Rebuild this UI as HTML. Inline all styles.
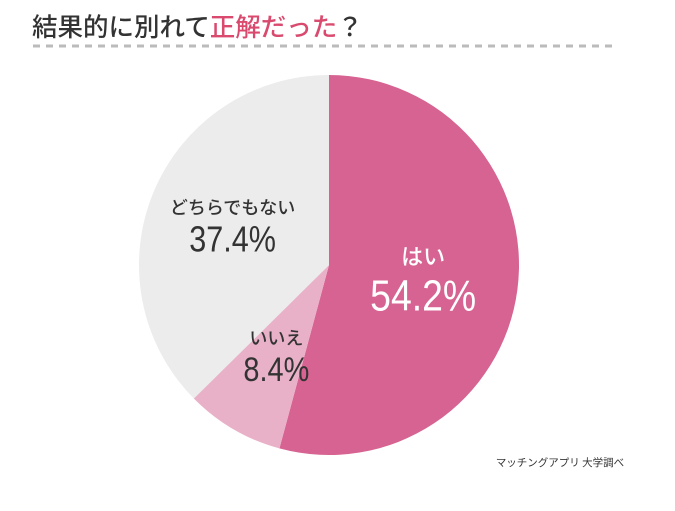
<!DOCTYPE html>
<html><head><meta charset="utf-8">
<style>
body{margin:0;background:#fff;width:675px;height:506px;overflow:hidden;font-family:"Liberation Sans","Noto Sans CJK JP",sans-serif;}
</style></head><body>
<svg width="675" height="506" viewBox="0 0 675 506">
<text x="32" y="36" font-size="25.5" fill="#333" font-family="Noto Sans CJK JP, sans-serif" font-weight="500">結果的に別れて<tspan fill="#d94a6e">正解だった</tspan>？</text>
<line x1="33" y1="46" x2="618" y2="46" stroke="#bbb" stroke-width="3" stroke-dasharray="7,6"/>
<g id="slices"></g>
<g id="labels" font-family="Noto Sans CJK JP, sans-serif" text-anchor="middle" font-weight="500"></g>
<text x="560" y="466" font-size="10.5" fill="#333" text-anchor="middle" font-family="Noto Sans CJK JP, sans-serif">マッチングアプリ 大学調べ</text>
</svg>
<script>
const categories=["はい","いいえ","どちらでもない"];
const values=[54.2,8.4,37.4];
const colors=["#d66391","#e9b1c8","#ececec"];
const cx=329,cy=265,r=190;
const ns="http://www.w3.org/2000/svg";
const total=values.reduce((a,b)=>a+b,0);
const sg=document.getElementById("slices"),lg=document.getElementById("labels");
const labelR=[0.5,0.55,0.55];
const txtColor=["#fff","#333","#333"];
const nameSize=[22,18,18],valSize=[44,34,36];
let a0=0;
values.forEach((v,i)=>{
  const a1=a0+v/total*2*Math.PI;
  const p=a=>[cx+r*Math.sin(a),cy-r*Math.cos(a)];
  const [x0,y0]=p(a0),[x1,y1]=p(a1);
  const path=document.createElementNS(ns,"path");
  path.setAttribute("d",`M${cx},${cy}L${x0},${y0}A${r},${r} 0 ${a1-a0>Math.PI?1:0} 1 ${x1},${y1}Z`);
  path.setAttribute("fill",colors[i]);
  
  
  sg.appendChild(path);
  const am=(a0+a1)/2,lr=r*labelR[i];
  const lx=cx+lr*Math.sin(am),ly=cy-lr*Math.cos(am);
  const t1=document.createElementNS(ns,"text");
  t1.setAttribute("x",lx);t1.setAttribute("y",ly-nameSize[i]*0.6);
  t1.setAttribute("font-size",nameSize[i]);t1.setAttribute("fill",txtColor[i]);
  t1.textContent=categories[i];
  
  
  lg.appendChild(t1);
  const t2=document.createElementNS(ns,"text");
  t2.setAttribute("x",lx);t2.setAttribute("y",ly+valSize[i]*0.75);
  t2.setAttribute("font-size",valSize[i]);t2.setAttribute("fill",txtColor[i]);
  t2.setAttribute("font-family","Liberation Sans, sans-serif");
  t2.setAttribute("transform",`translate(${lx},0) scale(0.85,1) translate(${-lx},0)`);
  t2.textContent=v.toFixed(1)+"%";
  
  
  lg.appendChild(t2);
  a0=a1;
});
</script>
</body></html>
